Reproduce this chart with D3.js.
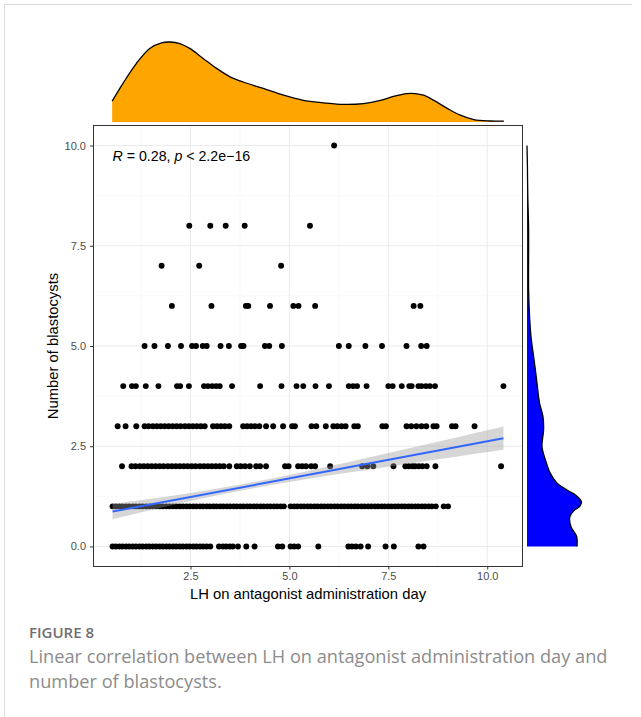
<!DOCTYPE html>
<html>
<head>
<meta charset="utf-8">
<script src="https://cdn.jsdelivr.net/npm/d3@7"></script>
<style>
body { margin: 0; background: #fff; }
svg { display: block; }
</style>
</head>
<body>
<svg width="641" height="717"></svg>
<script>
// LH values, grouped by number of blastocysts
const lh0 = [0.53, 0.61, 0.70, 0.78, 0.87, 0.95, 1.04, 1.12, 1.21, 1.29, 1.38, 1.46, 1.55, 1.63, 1.72, 1.80, 1.89, 1.97, 2.06, 2.14,
	2.23, 2.31, 2.40, 2.48, 2.57, 2.65, 2.74, 2.82, 2.91, 3.00, 3.22, 3.32, 3.40, 3.49, 3.57, 3.70, 3.91, 4.12, 4.71, 4.82,
	5.03, 5.12, 5.22, 5.73, 6.49, 6.58, 6.68, 6.80, 6.99, 7.43, 7.64, 8.26, 8.39];
const lh1 = [0.53, 0.61, 0.70, 0.78, 0.87, 0.95, 1.04, 1.12, 1.21, 1.29, 1.38, 1.46, 1.55, 1.63, 1.72, 1.80, 1.89, 1.97, 2.06, 2.14,
	2.23, 2.31, 2.40, 2.48, 2.57, 2.65, 2.74, 2.82, 2.91, 2.99, 3.08, 3.16, 3.25, 3.33, 3.42, 3.50, 3.59, 3.67, 3.76, 3.84,
	3.93, 4.01, 4.10, 4.18, 4.27, 4.35, 4.44, 4.52, 4.61, 4.69, 4.78, 4.86, 5.03, 5.12, 5.20, 5.29, 5.37, 5.46, 5.54, 5.63,
	5.71, 5.80, 5.88, 5.97, 6.05, 6.14, 6.22, 6.31, 6.39, 6.48, 6.56, 6.65, 6.73, 6.82, 6.90, 6.99, 7.07, 7.16, 7.24, 7.33,
	7.41, 7.50, 7.58, 7.67, 7.75, 7.84, 7.92, 8.01, 8.09, 8.18, 8.26, 8.35, 8.43, 8.52, 8.60, 8.70, 8.90, 9.01];
const lh2 = [0.77, 1.01, 1.11, 1.22, 1.32, 1.42, 1.52, 1.62, 1.72, 1.82, 1.93, 2.03, 2.13, 2.23, 2.33, 2.43, 2.53, 2.63, 2.74, 2.84,
	2.94, 3.04, 3.14, 3.24, 3.34, 3.48, 3.67, 3.77, 3.88, 4.00, 4.16, 4.26, 4.41, 4.89, 4.98, 5.22, 5.32, 5.42, 5.55, 5.65,
	6.03, 6.84, 6.97, 7.12, 7.63, 7.93, 8.02, 8.11, 8.18, 8.27, 8.36, 8.47, 8.69, 10.35];
const lh3 = [0.66, 0.86, 1.13, 1.34, 1.44, 1.55, 1.65, 1.75, 1.85, 1.95, 2.05, 2.15, 2.25, 2.36, 2.46, 2.56, 2.66, 2.76, 2.86, 3.07,
	3.17, 3.27, 3.37, 3.48, 3.83, 3.93, 4.03, 4.13, 4.24, 4.41, 4.59, 4.84, 5.07, 5.14, 5.56, 5.68, 5.92, 6.11, 6.21, 6.32,
	6.42, 6.64, 6.73, 7.35, 7.44, 7.96, 8.08, 8.21, 8.34, 8.46, 8.64, 8.72, 9.11, 9.20, 9.68];
const lh4 = [0.80, 1.02, 1.12, 1.37, 1.69, 2.16, 2.24, 2.46, 2.84, 2.94, 3.05, 3.15, 3.24, 3.55, 4.26, 4.80, 5.18, 5.35, 5.66, 6.00,
	6.50, 6.61, 6.71, 6.95, 7.50, 7.61, 7.84, 8.03, 8.09, 8.26, 8.34, 8.45, 8.55, 8.68, 10.41];
const lh5 = [1.34, 1.59, 1.93, 2.26, 2.54, 2.64, 2.81, 2.91, 3.26, 3.47, 3.78, 3.84, 4.38, 4.49, 4.81, 6.25, 6.50, 6.92, 7.34, 7.96,
	8.33, 8.47];
const lh6 = [2.03, 3.03, 3.90, 3.96, 4.51, 5.10, 5.23, 5.65, 8.14, 8.31];
const lh7 = [1.77, 2.72, 4.79];
const lh8 = [2.47, 3.00, 3.39, 3.87, 5.52];
const lh10 = [6.13];

const counts = [0, 1, 2, 3, 4, 5, 6, 7, 8, 10];
const groups = [lh0, lh1, lh2, lh3, lh4, lh5, lh6, lh7, lh8, lh10];

// linear fit and its confidence band
const fitLH = [0.53, 10.41];
const fitCount = [0.87, 2.70];
const bandLH = [0.53, 1.5, 2.5, 3.5, 4.5, 5.5, 6.5, 7.5, 8.5, 9.5, 10.41];
const bandHalf = [0.19, 0.14, 0.10, 0.08, 0.08, 0.10, 0.13, 0.17, 0.21, 0.25, 0.29];

// marginal densities
const densLH = [0.52, 0.79, 1.13, 1.47, 1.77, 1.98, 2.23, 2.48, 2.82, 3.16, 3.50, 3.83, 4.34, 4.85, 5.35, 5.86, 6.37, 6.87, 7.30,
	7.63, 7.97, 8.18, 8.39, 8.65, 8.99, 9.32, 9.66, 10.08, 10.42];
const densLHVal = [0.052, 0.096, 0.146, 0.184, 0.198, 0.200, 0.196, 0.184, 0.159, 0.134, 0.113, 0.100, 0.084, 0.067, 0.054, 0.048,
	0.044, 0.046, 0.054, 0.064, 0.071, 0.071, 0.067, 0.054, 0.034, 0.017, 0.006, 0.0025, 0.002];
const densCount = [10.0, 9.5, 8.73, 7.9, 6.4, 5.73, 5.23, 4.74, 4.40, 4.07, 3.57, 3.24, 2.91, 2.49, 2.16, 1.83, 1.58, 1.41, 1.28,
	1.12, 1.0, 0.9, 0.74, 0.49, 0.25, 0.0];
const densCountVal = [0.0, 0.001, 0.002, 0.004, 0.004, 0.0065, 0.010, 0.0165, 0.021, 0.025, 0.0315, 0.040, 0.0415, 0.0375, 0.046,
	0.058, 0.075, 0.100, 0.122, 0.136, 0.132, 0.118, 0.107, 0.110, 0.124, 0.125];

const xTicks = [2.5, 5.0, 7.5, 10.0];
const yTicks = [0.0, 2.5, 5.0, 7.5, 10.0];
const xMinor = [1.25, 3.75, 6.25, 8.75];
const yMinor = [1.25, 3.75, 6.25, 8.75];

const points = [];
groups.forEach((g, i) => g.forEach(v => points.push({ lh: v, n: counts[i] })));

const panel = { left: 93, right: 523, top: 125.5, bottom: 566.5 };
const svg = d3.select("svg");

// ggplot-like 5% expansion
const xExt = d3.extent(points, d => d.lh);
const xPad = (xExt[1] - xExt[0]) * 0.05;
const xScale = d3.scaleLinear().domain([xExt[0] - xPad, xExt[1] + xPad]).range([panel.left, panel.right]);
const yScale = d3.scaleLinear().domain([-0.5, 10.5]).range([panel.bottom, panel.top]);

// page frame
svg.append("path")
	.attr("d", "M4.5,717V4.5H632")
	.attr("fill", "none")
	.attr("stroke", "#dcdcdc");

// grid
const grid = svg.append("g");
grid.selectAll(".xmin").data(xMinor).join("line")
	.attr("x1", d => xScale(d)).attr("x2", d => xScale(d))
	.attr("y1", panel.top).attr("y2", panel.bottom)
	.attr("stroke", "#f5f5f5").attr("stroke-width", 0.6);
grid.selectAll(".ymin").data(yMinor).join("line")
	.attr("y1", d => yScale(d)).attr("y2", d => yScale(d))
	.attr("x1", panel.left).attr("x2", panel.right)
	.attr("stroke", "#f5f5f5").attr("stroke-width", 0.6);
grid.selectAll(".xmaj").data(xTicks).join("line")
	.attr("x1", d => xScale(d)).attr("x2", d => xScale(d))
	.attr("y1", panel.top).attr("y2", panel.bottom)
	.attr("stroke", "#ebebeb").attr("stroke-width", 1);
grid.selectAll(".ymaj").data(yTicks).join("line")
	.attr("y1", d => yScale(d)).attr("y2", d => yScale(d))
	.attr("x1", panel.left).attr("x2", panel.right)
	.attr("stroke", "#ebebeb").attr("stroke-width", 1);

// confidence band + fit line
const fitScale = d3.scaleLinear().domain(fitLH).range(fitCount);
const band = d3.area()
	.x(d => xScale(d[0]))
	.y0(d => yScale(fitScale(d[0]) - d[1]))
	.y1(d => yScale(fitScale(d[0]) + d[1]))
	.curve(d3.curveCatmullRom);

// points
svg.append("g").selectAll("circle").data(points).join("circle")
	.attr("cx", d => xScale(d.lh))
	.attr("cy", d => yScale(d.n))
	.attr("r", 2.95)
	.attr("fill", "#000");

svg.append("path")
	.datum(bandLH.map((v, i) => [v, bandHalf[i]]))
	.attr("d", band)
	.attr("fill", "#999999")
	.attr("fill-opacity", 0.4);

svg.append("path")
	.datum(fitLH.map((v, i) => [v, fitCount[i]]))
	.attr("d", d3.line().x(d => xScale(d[0])).y(d => yScale(d[1])))
	.attr("fill", "none")
	.attr("stroke", "#3366FF")
	.attr("stroke-width", 2);

// panel border
svg.append("rect")
	.attr("x", panel.left + 0.5).attr("y", panel.top)
	.attr("width", panel.right - panel.left - 1).attr("height", panel.bottom - panel.top)
	.attr("fill", "none")
	.attr("stroke", "#333333")
	.attr("stroke-width", 1);

// axes
const xAxis = svg.append("g")
	.attr("transform", `translate(0,${panel.bottom})`)
	.call(d3.axisBottom(xScale).tickValues(xTicks).tickFormat(d3.format(".1f")).tickSize(3).tickPadding(3));
const yAxis = svg.append("g")
	.attr("transform", `translate(${panel.left},0)`)
	.call(d3.axisLeft(yScale).tickValues(yTicks).tickFormat(d3.format(".1f")).tickSize(3).tickPadding(4));
[xAxis, yAxis].forEach(a => {
	a.select(".domain").remove();
	a.selectAll(".tick line").attr("stroke", "#333333");
	a.selectAll(".tick text")
		.attr("fill", "#4d4d4d")
		.style("font-family", "'Liberation Sans', Arial, sans-serif")
		.style("font-size", "11px");
});

svg.append("text")
	.attr("x", (panel.left + panel.right) / 2)
	.attr("y", 599)
	.attr("text-anchor", "middle")
	.style("font-family", "'Liberation Sans', Arial, sans-serif")
	.style("font-size", "14.8px")
	.text("LH on antagonist administration day");

svg.append("text")
	.attr("transform", `translate(58,${(panel.top + panel.bottom) / 2}) rotate(-90)`)
	.attr("text-anchor", "middle")
	.style("font-family", "'Liberation Sans', Arial, sans-serif")
	.style("font-size", "14.8px")
	.text("Number of blastocysts");

// correlation label
const lab = svg.append("text")
	.attr("x", 112.5)
	.attr("y", 161)
	.style("font-family", "'Liberation Sans', Arial, sans-serif")
	.style("font-size", "14.2px");
lab.append("tspan").style("font-style", "italic").text("R");
lab.append("tspan").text(" = 0.28, ");
lab.append("tspan").style("font-style", "italic").text("p");
lab.append("tspan").text(" < 2.2e\u221216");

// top marginal density
const topY = d3.scaleLinear().domain([0, 0.2]).range([122, 42]);
const topData = densLH.map((v, i) => [v, densLHVal[i]]);
svg.append("path")
	.datum(topData)
	.attr("d", d3.area().x(d => xScale(d[0])).y0(topY(0)).y1(d => topY(d[1])).curve(d3.curveCatmullRom))
	.attr("fill", "#FFA500");
svg.append("path")
	.datum(topData)
	.attr("d", d3.line().x(d => xScale(d[0])).y(d => topY(d[1])).curve(d3.curveCatmullRom))
	.attr("fill", "none")
	.attr("stroke", "#000")
	.attr("stroke-width", 1.3);

// right marginal density
const rightX = d3.scaleLinear().domain([0, 0.2]).range([527, 607]);
const rightData = densCount.map((v, i) => [v, densCountVal[i]]);
svg.append("path")
	.datum(rightData)
	.attr("d", d3.area().y(d => yScale(d[0])).x0(rightX(0)).x1(d => rightX(d[1])).curve(d3.curveCatmullRom))
	.attr("fill", "#0000FF");
svg.append("path")
	.datum(rightData)
	.attr("d", d3.line().y(d => yScale(d[0])).x(d => rightX(d[1])).curve(d3.curveCatmullRom))
	.attr("fill", "none")
	.attr("stroke", "#000")
	.attr("stroke-width", 1.3);

// caption
svg.append("text")
	.attr("x", 29).attr("y", 638)
	.attr("fill", "#6e6e6e")
	.style("font-family", "'Open Sans', sans-serif")
	.style("font-weight", 600)
	.style("font-size", "15px")
	.text("FIGURE 8");
const capLines = ["Linear correlation between LH on antagonist administration day and", "number of blastocysts."];
svg.selectAll(".cap").data(capLines).join("text")
	.attr("x", 29)
	.attr("y", (d, i) => 663 + i * 25)
	.attr("fill", "#8c8c8c")
	.style("font-family", "'Open Sans', sans-serif")
	.style("font-size", "18.2px")
	.text(d => d);
</script>
</body>
</html>
